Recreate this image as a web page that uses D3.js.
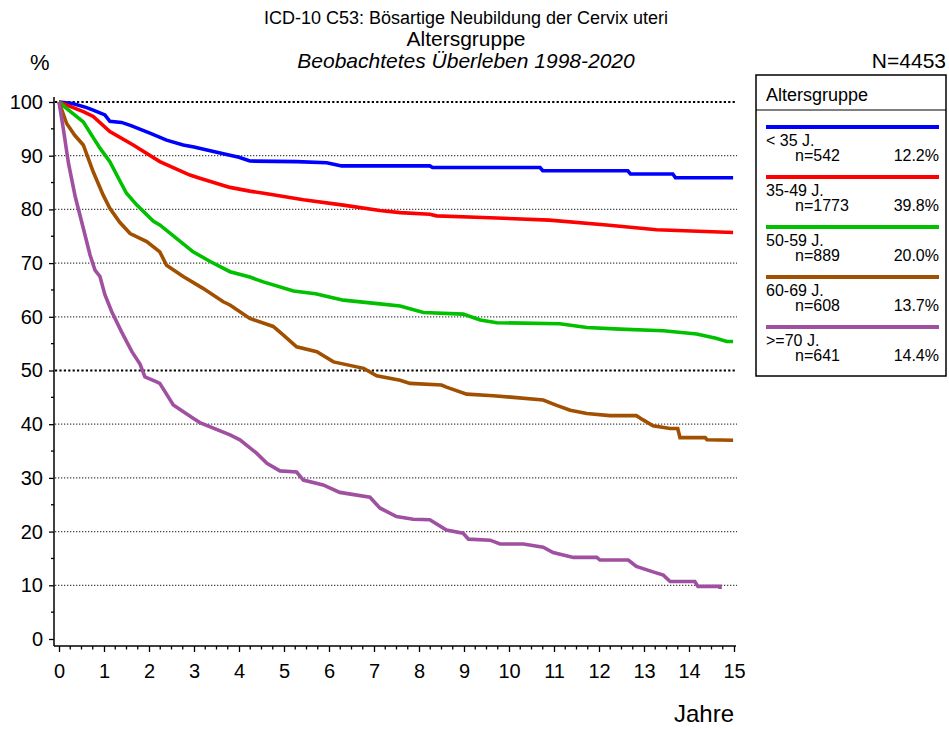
<!DOCTYPE html>
<html>
<head>
<meta charset="utf-8">
<script src="https://cdn.jsdelivr.net/npm/d3@7"></script>
<style>
  body { margin: 0; background: #fff; }
  svg { display: block; font-family: "Liberation Sans", Arial, sans-serif; }
</style>
</head>
<body>
<svg id="chart" width="949" height="729"></svg>
<script>
  // ===== Daten =====
  var groupLabels = ['< 35 J.', '35-49 J.', '50-59 J.', '60-69 J.', '>=70 J.'];
  var groupN = ['n=542', 'n=1773', 'n=889', 'n=608', 'n=641'];
  var groupPct = ['12.2%', '39.8%', '20.0%', '13.7%', '14.4%'];
  var groupColors = ['#0000ff', '#ff0000', '#00c000', '#a05000', '#a050a0'];

  var xTicks = d3.range(0, 16);
  var yTicks = d3.range(0, 101, 10);

  var survU35 = [[0,100],[0.3,99.7],[0.6,99],[0.76,98.5],[1.02,97.6],[1.13,96.4],[1.39,96.2],[1.6,95.6],[2.02,94.2],[2.39,92.9],[2.76,92.0],[3.0,91.6],[3.36,90.9],[3.8,90.1],[4.0,89.7],[4.24,89.0],[5.28,88.9],[5.95,88.7],[6.28,88.1],[8.24,88.1],[8.3,87.8],[10.69,87.8],[10.75,87.2],[12.64,87.2],[12.7,86.6],[13.64,86.6],[13.7,85.9],[14.98,85.9]];
  var surv3549 = [[0,100],[0.3,99.0],[0.54,98.2],[0.76,97.3],[1.13,94.5],[1.65,92.0],[2.24,88.9],[2.91,86.4],[3.13,85.8],[3.8,84.1],[4.24,83.4],[4.62,82.9],[5.43,81.8],[6.32,80.8],[7.13,79.8],[7.58,79.4],[8.24,79.1],[8.39,78.8],[9.42,78.5],[10.9,78.0],[12.17,77.1],[13.28,76.2],[14.98,75.7]];
  var surv5059 = [[0,100],[0.2,98.6],[0.54,96.3],[0.75,93.5],[0.91,91.4],[1.13,88.9],[1.36,85.2],[1.5,83.0],[1.73,80.8],[2.1,77.8],[2.24,77.1],[2.61,74.6],[2.98,72.1],[3.36,70.3],[3.8,68.4],[4.24,67.4],[4.54,66.5],[5.21,64.8],[5.7,64.3],[6.32,63.1],[7.13,62.4],[7.58,62.0],[8.1,60.8],[8.98,60.5],[9.36,59.4],[9.73,58.9],[11.13,58.7],[11.73,58.0],[12.47,57.7],[13.43,57.4],[14.17,56.8],[14.6,56.0],[14.84,55.4],[14.98,55.4]];
  var surv6069 = [[0,100],[0.17,96.0],[0.35,93.8],[0.54,92.0],[0.76,87.0],[0.98,82.7],[1.13,80.2],[1.35,77.6],[1.58,75.5],[1.95,74.0],[2.24,72.1],[2.39,69.6],[2.76,67.5],[3.2,65.3],[3.65,62.8],[3.8,62.2],[4.24,59.7],[4.76,58.2],[5.0,56.5],[5.28,54.4],[5.73,53.5],[6.1,51.6],[6.77,50.4],[7.06,49.0],[7.58,48.2],[7.8,47.6],[8.5,47.3],[8.61,46.9],[9.06,45.6],[9.65,45.3],[10.1,45.0],[10.76,44.5],[11.06,43.5],[11.36,42.6],[11.73,42.0],[12.24,41.6],[12.83,41.6],[12.98,40.8],[13.2,39.7],[13.58,39.2],[13.75,39.2],[13.8,37.5],[14.36,37.5],[14.4,37.1],[14.98,37.0]];
  var surv70 = [[0,100],[0.1,94.8],[0.21,88.6],[0.36,82.4],[0.54,76.5],[0.69,71.5],[0.8,68.7],[0.91,67.5],[1.02,64.1],[1.17,61.0],[1.39,57.2],[1.62,53.5],[1.8,51.2],[1.91,48.8],[2.17,47.9],[2.24,47.6],[2.54,43.6],[2.98,41.1],[3.13,40.3],[3.8,38.0],[4.02,37.1],[4.39,34.6],[4.62,32.7],[4.91,31.3],[5.28,31.1],[5.43,29.6],[5.87,28.7],[6.24,27.3],[6.91,26.4],[7.13,24.4],[7.5,22.8],[7.87,22.3],[8.24,22.2],[8.61,20.3],[8.98,19.7],[9.1,18.6],[9.58,18.4],[9.8,17.7],[10.32,17.7],[10.76,17.1],[10.98,16.1],[11.43,15.2],[11.95,15.2],[12.02,14.7],[12.65,14.7],[12.83,13.5],[13.2,12.5],[13.43,11.9],[13.58,10.7],[14.13,10.7],[14.2,9.8],[14.69,9.8],[14.69,9.3]];

  var seriesList = [survU35, surv3549, surv5059, surv6069, surv70];

  // ===== Aufbau =====
  var svg = d3.select('#chart');
  var x = d3.scaleLinear().domain([0, 15]).range([59, 734]);
  var y = d3.scaleLinear().domain([0, 100]).range([639, 102]);
  var axisX = 54, axisY = 646;

  // Titel
  var titles = [
    { t: 'ICD-10 C53: Bösartige Neubildung der Cervix uteri', y: 24, size: 18, style: 'normal' },
    { t: 'Altersgruppe', y: 46, size: 21, style: 'normal' },
    { t: 'Beobachtetes Überleben 1998-2020', y: 68, size: 21, style: 'italic' }
  ];
  svg.selectAll('text.title').data(titles).join('text')
    .attr('class', 'title')
    .attr('x', 466).attr('y', function (d) { return d.y; })
    .attr('text-anchor', 'middle')
    .attr('font-size', function (d) { return d.size; })
    .attr('font-style', function (d) { return d.style; })
    .text(function (d) { return d.t; });

  svg.append('text').attr('x', 30).attr('y', 70).attr('font-size', 22).text('%');
  svg.append('text').attr('x', 946).attr('y', 68).attr('text-anchor', 'end').attr('font-size', 21).text('N=4453');

  // Gitterlinien
  svg.append('g').selectAll('line').data(yTicks.filter(function (v) { return v > 0; })).join('line')
    .attr('x1', axisX + 1).attr('x2', 737)
    .attr('y1', function (d) { return y(d); }).attr('y2', function (d) { return y(d); })
    .attr('stroke', function (d) { return (d === 100 || d === 50) ? '#000' : '#444'; })
    .attr('stroke-width', function (d) { return (d === 100 || d === 50) ? 2.2 : 1.3; })
    .attr('stroke-dasharray', function (d) { return (d === 100 || d === 50) ? '2.2,2.2' : '1.3,1.7'; });

  // Y-Achse
  var gy = svg.append('g').attr('transform', 'translate(' + axisX + ',0)')
    .call(d3.axisLeft(y).tickValues(yTicks).tickSize(5).tickPadding(6).tickFormat(d3.format('d')));
  gy.select('.domain').remove();
  gy.selectAll('text').attr('font-size', 20).attr('font-family', '"Liberation Sans", Arial, sans-serif').attr('fill', '#000');
  gy.selectAll('line').attr('stroke-width', 1.3);
  svg.append('g').selectAll('line').data(d3.range(5, 100, 10)).join('line')
    .attr('x1', axisX - 3).attr('x2', axisX)
    .attr('y1', function (d) { return y(d); }).attr('y2', function (d) { return y(d); })
    .attr('stroke', '#000').attr('stroke-width', 1.3);
  svg.append('line').attr('x1', axisX).attr('x2', axisX)
    .attr('y1', y(100) - 5).attr('y2', axisY)
    .attr('stroke', '#000').attr('stroke-width', 1.5);

  // X-Achse
  var gx = svg.append('g').attr('transform', 'translate(0,' + axisY + ')')
    .call(d3.axisBottom(x).tickValues(xTicks).tickSize(6).tickPadding(12).tickFormat(d3.format('d')));
  gx.select('.domain').remove();
  gx.selectAll('text').attr('font-size', 20).attr('font-family', '"Liberation Sans", Arial, sans-serif').attr('fill', '#000');
  gx.selectAll('line').attr('stroke-width', 1.3);
  svg.append('g').selectAll('line').data(d3.range(0, 15.01, 0.25).filter(function (v) { return v % 1 !== 0; })).join('line')
    .attr('x1', function (d) { return x(d); }).attr('x2', function (d) { return x(d); })
    .attr('y1', axisY).attr('y2', axisY + 3.5)
    .attr('stroke', '#000').attr('stroke-width', 1.3);
  svg.append('line').attr('x1', axisX).attr('x2', x(15) + 2)
    .attr('y1', axisY).attr('y2', axisY)
    .attr('stroke', '#000').attr('stroke-width', 1.5);

  svg.append('text').attr('x', x(15)).attr('y', 722).attr('text-anchor', 'end').attr('font-size', 24).text('Jahre');

  // Überlebenskurven
  var line = d3.line()
    .x(function (d) { return x(d[0]); })
    .y(function (d) { return y(d[1]); })
    .curve(d3.curveLinear);

  svg.append('g').selectAll('path').data(seriesList).join('path')
    .attr('d', line)
    .attr('fill', 'none')
    .attr('stroke', function (d, i) { return groupColors[i]; })
    .attr('stroke-width', 3.6)
    .attr('stroke-linejoin', 'miter');

  // Legende
  var lg = svg.append('g').attr('transform', 'translate(756,75)');
  lg.append('rect').attr('width', 190).attr('height', 301).attr('fill', '#fff').attr('stroke', '#000').attr('stroke-width', 1.5);
  lg.append('line').attr('x1', 0).attr('x2', 190).attr('y1', 35).attr('y2', 35).attr('stroke', '#000').attr('stroke-width', 1.2);
  lg.append('text').attr('x', 10).attr('y', 26).attr('font-size', 18).text('Altersgruppe');

  var items = lg.selectAll('g.item').data(groupLabels).join('g')
    .attr('class', 'item')
    .attr('transform', function (d, i) { return 'translate(0,' + (52 + i * 50) + ')'; });
  items.append('line').attr('x1', 10).attr('x2', 183).attr('y1', 0).attr('y2', 0)
    .attr('stroke', function (d, i) { return groupColors[i]; }).attr('stroke-width', 4);
  items.append('text').attr('x', 10).attr('y', 19).attr('font-size', 16).text(function (d) { return d; });
  items.append('text').attr('x', 39).attr('y', 34).attr('font-size', 16).text(function (d, i) { return groupN[i]; });
  items.append('text').attr('x', 183).attr('y', 34).attr('text-anchor', 'end').attr('font-size', 16).text(function (d, i) { return groupPct[i]; });
</script>
</body>
</html>
